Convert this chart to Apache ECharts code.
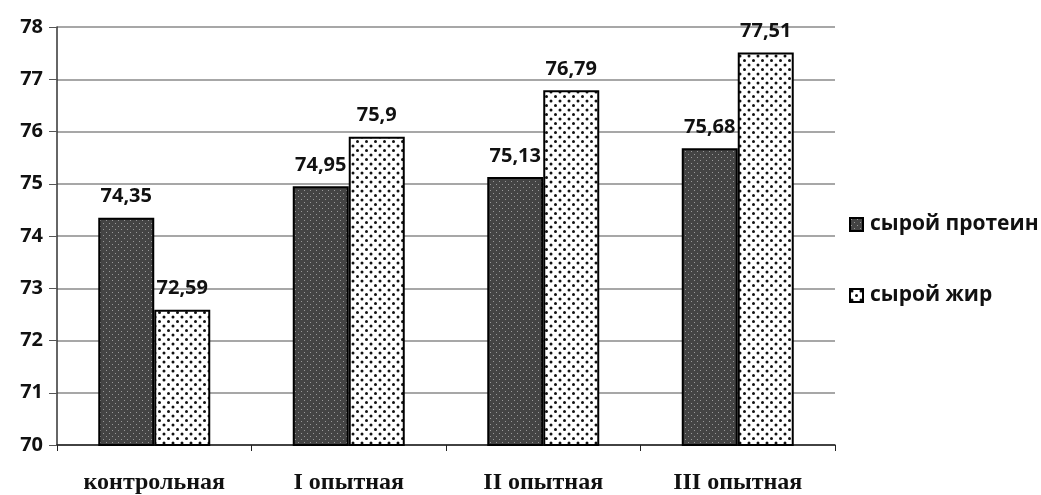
<!DOCTYPE html>
<html>
<head>
<meta charset="utf-8">
<script src="https://cdn.jsdelivr.net/npm/echarts@6/dist/echarts.min.js"></script>
<style>
    html, body { margin: 0; padding: 0; background: #fff; }
    #chart { width: 1041px; height: 495px; }
</style>
</head>
<body>
<div id="chart"></div>
<script>
/* ── Data ─────────────────────────────────────────────────────────── */
const categories = ['контрольная', 'I опытная', 'II опытная', 'III опытная'];
const protein = [74.35, 74.95, 75.13, 75.68];
const fat = [72.59, 75.9, 76.79, 77.51];
const seriesNames = ['сырой протеин', 'сырой жир'];

/* ── Patterns ─────────────────────────────────────────────────────── */
function darkPattern() {
    const c = document.createElement('canvas');
    c.width = 6; c.height = 6;
    const g = c.getContext('2d');
    g.fillStyle = '#444';
    g.fillRect(0, 0, 6, 6);
    g.fillStyle = '#999';
    g.fillRect(1, 1, 1, 1);
    g.fillRect(4, 4, 1, 1);
    return c;
}

function dotPattern() {
    const c = document.createElement('canvas');
    c.width = 9; c.height = 9;
    const g = c.getContext('2d');
    g.fillStyle = '#fff';
    g.fillRect(0, 0, 9, 9);
    g.fillStyle = '#111';
    g.beginPath(); g.arc(2, 2, 1.5, 0, Math.PI * 2); g.fill();
    g.beginPath(); g.arc(6.5, 6.5, 1.5, 0, Math.PI * 2); g.fill();
    return c;
}

const fmt = p => String(p.value).replace('.', ',');

const labelStyle = {
    show: true,
    position: 'top',
    distance: 11,
    formatter: fmt,
    color: '#111',
    fontFamily: 'Open Sans',
    fontWeight: 'bold',
    fontSize: 20
};

/* ── Chart ────────────────────────────────────────────────────────── */
const chart = echarts.init(document.getElementById('chart'));

chart.setOption({
    animation: false,
    backgroundColor: '#fff',
    grid: { left: 57, right: 206, top: 27, bottom: 50, outerBoundsMode: 'none', containLabel: false },
    legend: {
        orient: 'vertical',
        left: 844,
        top: 209,
        itemGap: 50,
        itemWidth: 13,
        itemHeight: 13,
        textStyle: { fontFamily: 'Open Sans', fontWeight: 'bold', fontSize: 21, color: '#111', padding: [0, 0, 0, 2] },
        data: seriesNames.map(n => ({ name: n, icon: 'rect' }))
    },
    xAxis: {
        type: 'category',
        data: categories,
        axisLine: { lineStyle: { color: '#222', width: 1.5 } },
        axisTick: { show: true, length: 6, lineStyle: { color: '#222' } },
        axisLabel: {
            margin: 26,
            color: '#111',
            fontFamily: 'Liberation Serif',
            fontWeight: 'bold',
            fontSize: 24
        }
    },
    yAxis: {
        type: 'value',
        min: 70,
        max: 78,
        interval: 1,
        axisLine: { show: true, lineStyle: { color: '#333', width: 1.5 } },
        axisTick: { show: true, length: 8, lineStyle: { color: '#555' } },
        axisLabel: {
            margin: 14,
            color: '#111',
            fontFamily: 'Open Sans',
            fontWeight: 'bold',
            fontSize: 20
        },
        splitLine: { lineStyle: { color: '#8a8a8a', width: 1.5 } }
    },
    series: [
        {
            name: seriesNames[0],
            type: 'bar',
            data: protein,
            barWidth: 56,
            barGap: '0%',
            itemStyle: {
                color: { image: darkPattern(), repeat: 'repeat' },
                borderColor: '#000',
                borderWidth: 2
            },
            label: labelStyle
        },
        {
            name: seriesNames[1],
            type: 'bar',
            data: fat,
            barWidth: 56,
            barGap: '0%',
            itemStyle: {
                color: { image: dotPattern(), repeat: 'repeat' },
                borderColor: '#000',
                borderWidth: 2
            },
            label: labelStyle
        }
    ]
});
</script>
</body>
</html>
